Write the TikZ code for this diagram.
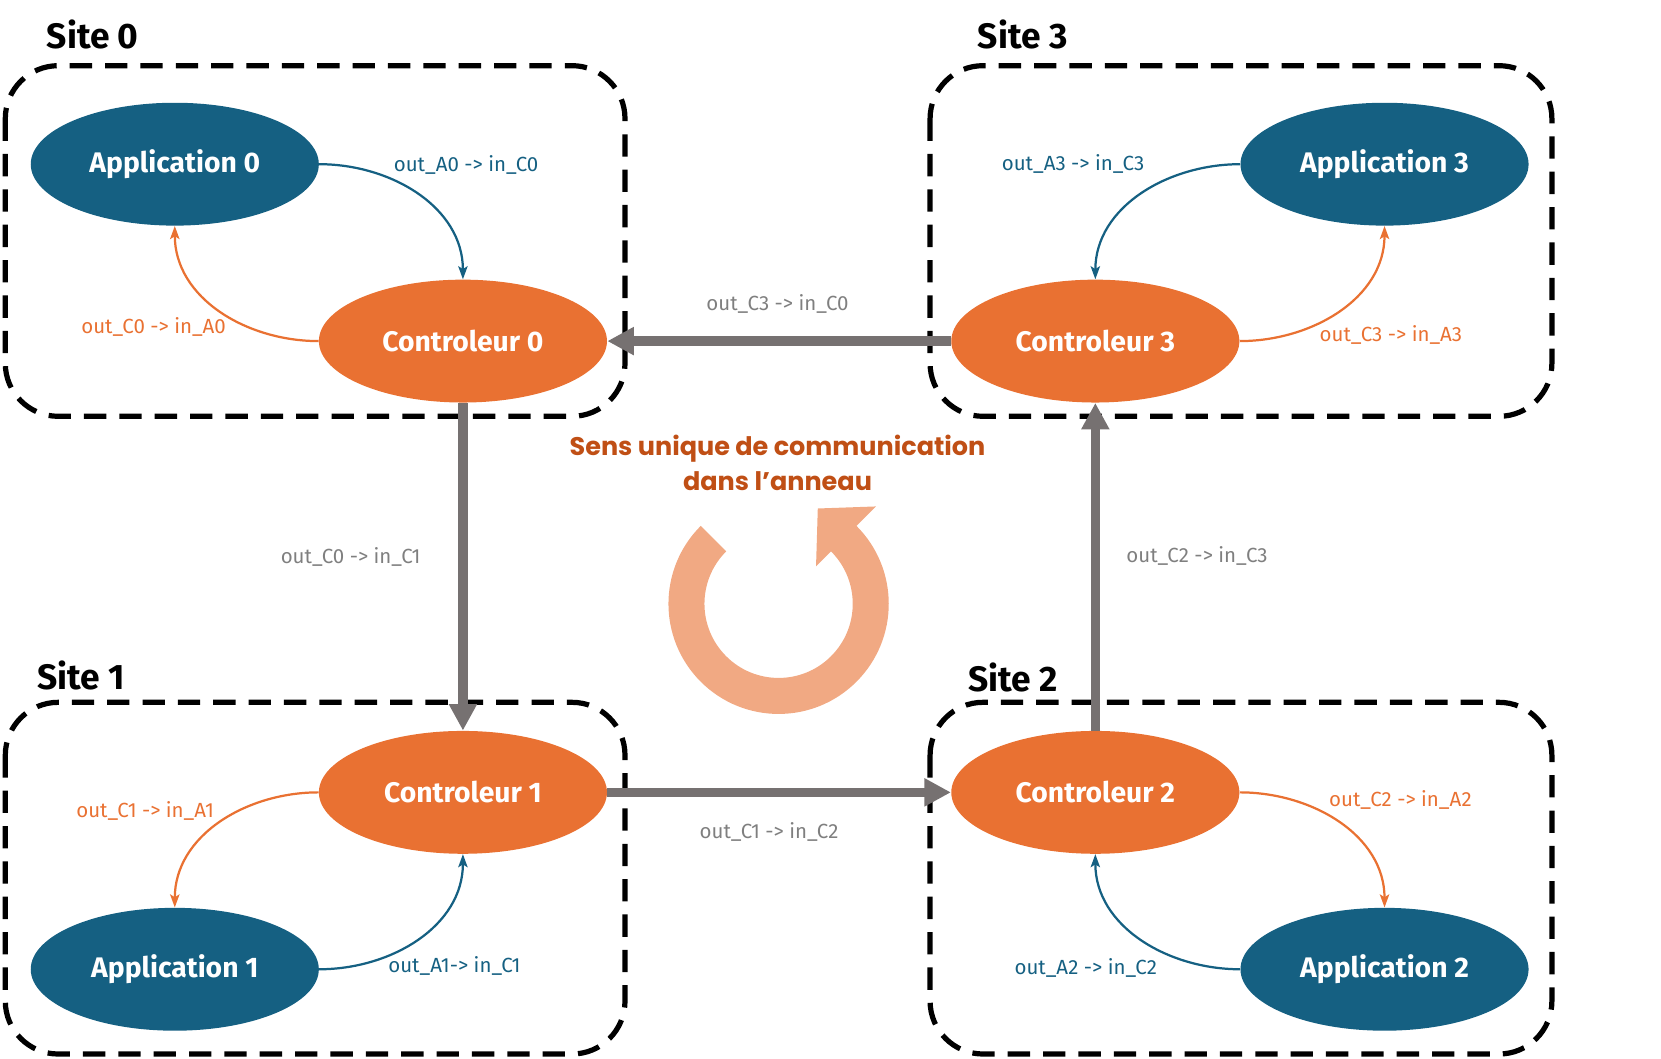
\documentclass[tikz,border=0pt]{standalone}
\usepackage{fontspec}
\setmainfont{Fira Sans}
\newfontfamily\sensfont{Poppins}
\usetikzlibrary{arrows.meta,shapes.geometric}

\definecolor{appblue}{HTML}{156082}
\definecolor{ctrlorange}{HTML}{E97132}
\definecolor{ringgray}{HTML}{767171}
\definecolor{lblgray}{HTML}{7F7F7F}
\definecolor{sensorange}{HTML}{C04F15}
\definecolor{loopcolor}{HTML}{F1A983}

\tikzset{
  app/.style={ellipse, fill=appblue, text=white, inner sep=0pt,
    minimum width=5.44cm, minimum height=2.32cm,
    font=\fontsize{15.2}{17}\selectfont\bfseries},
  ctrl/.style={app, fill=ctrlorange},
  site/.style={draw, line width=2.8pt, dash pattern=on 12pt off 7pt, rounded corners=1cm},
  sitelabel/.style={anchor=west, font=\fontsize{19}{21}\selectfont\bfseries},
  local/.style={line width=1.2pt, -{Stealth[length=7pt,width=5pt,inset=1.5pt]}},
  ring/.style={draw=ringgray, line width=5pt, -{Triangle[length=0.5cm,width=0.5cm]}},
  lbl/.style={font=\fontsize{11}{13}\selectfont},
}

\begin{document}
\begin{tikzpicture}[x=0.02cm,y=0.02cm]
\useasboundingbox (0,0) rectangle (1568,-999);

% sites
\draw[site] (5,-62) rectangle (590,-393);
\draw[site] (878,-62) rectangle (1465,-393);
\draw[site] (5,-663) rectangle (590,-995);
\draw[site] (878,-663) rectangle (1465,-995);
\node[sitelabel] (s0) at (38,-33) {Site 0};
\node[sitelabel] (s3) at (917,-33) {Site 3};
\node[sitelabel] (s1) at (29,-638) {Site 1};
\node[sitelabel] (s2) at (908,-640) {Site 2};

% applications and controleurs
\node[app]  (A0) at (165,-155)  {Application 0};
\node[ctrl] (C0) at (437,-322)  {Controleur 0};
\node[app]  (A3) at (1307,-155) {Application 3};
\node[ctrl] (C3) at (1034,-322) {Controleur 3};
\node[ctrl] (C1) at (437,-748)  {Controleur 1};
\node[app]  (A1) at (165,-915)  {Application 1};
\node[ctrl] (C2) at (1034,-748) {Controleur 2};
\node[app]  (A2) at (1307,-915) {Application 2};

% links inside each site
\draw[local, appblue] (A0.east) to[out=0,in=90] (C0.north);
\draw[local, ctrlorange] (C0.west) to[out=180,in=-90] (A0.south);
\draw[local, appblue] (A3.west) to[out=180,in=90] (C3.north);
\draw[local, ctrlorange] (C3.east) to[out=0,in=-90] (A3.south);
\draw[local, ctrlorange] (C1.west) to[out=180,in=90] (A1.north);
\draw[local, appblue] (A1.east) to[out=0,in=-90] (C1.south);
\draw[local, ctrlorange] (C2.east) to[out=0,in=90] (A2.north);
\draw[local, appblue] (A2.west) to[out=180,in=-90] (C2.south);

\node[lbl, text=appblue]     (lA0) at (440,-156)  {out\_A0 -> in\_C0};
\node[lbl, text=ctrlorange]  (lC0) at (145,-309)  {out\_C0 -> in\_A0};
\node[lbl, text=appblue]     (lA3) at (1013,-155) {out\_A3 -> in\_C3};
\node[lbl, text=ctrlorange]  (lC3) at (1313,-316) {out\_C3 -> in\_A3};
\node[lbl, text=ctrlorange]  (lC1) at (137,-766)  {out\_C1 -> in\_A1};
\node[lbl, text=appblue]     (lA1) at (429,-912)  {out\_A1-> in\_C1};
\node[lbl, text=ctrlorange]  (lC2) at (1322,-755) {out\_C2 -> in\_A2};
\node[lbl, text=appblue]     (lA2) at (1025,-914) {out\_A2 -> in\_C2};

% the ring
\draw[ring] (C0.south) -- (C1.north);
\draw[ring] (C1.east) -- (C2.west);
\draw[ring] (C2.north) -- (C3.south);
\draw[ring] (C3.west) -- (C0.east);
\node[lbl, text=lblgray] (r01) at (331,-526)  {out\_C0 -> in\_C1};
\node[lbl, text=lblgray] (r12) at (726,-785)  {out\_C1 -> in\_C2};
\node[lbl, text=lblgray] (r23) at (1130,-525) {out\_C2 -> in\_C3};
\node[lbl, text=lblgray] (r30) at (734,-287)  {out\_C3 -> in\_C0};

\node[text=sensorange, align=center, font=\sensfont\fontsize{13.7}{18.7}\selectfont\bfseries]
  (sens) at (734,-437) {Sens unique de communication\\dans l’anneau};

\begin{scope}[shift={(735,-570)}] % round arrow
  \fill[loopcolor] (135:2.08cm) arc[start angle=135, end angle=405, radius=2.08cm]
    -- (45:2.6cm) -- (0.74cm,1.8cm) -- (45:1.0cm) -- (45:1.4cm)
    arc[start angle=405, end angle=135, radius=1.4cm] -- cycle;
\end{scope}

\end{tikzpicture}
\end{document}
